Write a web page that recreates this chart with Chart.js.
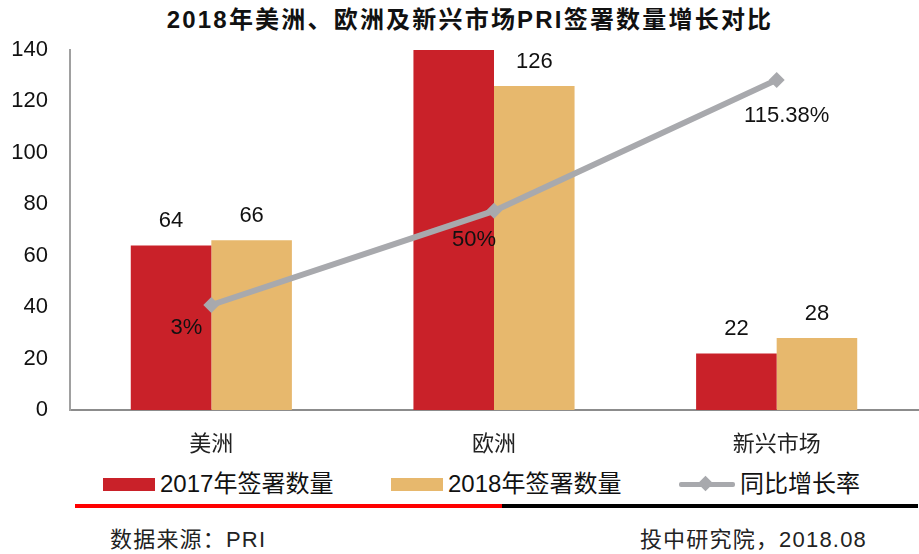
<!DOCTYPE html>
<html><head><meta charset="utf-8">
<script src="https://cdn.jsdelivr.net/npm/chart.js@4"></script>
<style>
body{margin:0;width:919px;height:554px;background:#fff;position:relative;overflow:hidden;font-family:"Liberation Sans",Arial,"Noto Sans CJK SC",sans-serif;color:#111;}
#wrap{position:absolute;left:0;top:0;width:919px;height:460px;}
.title{position:absolute;top:5px;left:0;width:940px;text-align:center;font-weight:bold;font-size:24px;letter-spacing:2.2px;line-height:30px;color:#111;}
.leg{position:absolute;top:470px;font-size:24px;line-height:28px;color:#111;white-space:nowrap;}
.box{position:absolute;width:52px;height:13px;top:478px;}
.ln{position:absolute;height:4px;top:504px;}
.foot{position:absolute;top:527px;font-size:22px;letter-spacing:1.2px;line-height:26px;color:#222;white-space:nowrap;}
</style></head>
<body>
<div class="title">2018年美洲、欧洲及新兴市场PRI签署数量增长对比</div>
<div id="wrap"><canvas id="c" width="919" height="460"></canvas></div>
<div class="box" style="left:103px;background:#C92129"></div>
<div class="leg" style="left:160px">2017年签署数量</div>
<div class="box" style="left:391px;background:#E7B86D"></div>
<div class="leg" style="left:448px">2018年签署数量</div>
<div style="position:absolute;left:679px;top:482px;width:56px;height:5px;background:#A8A9AD;border-radius:2px"></div>
<div style="position:absolute;left:700px;top:478px;width:11px;height:11px;background:#A8A9AD;transform:rotate(45deg)"></div>
<div class="leg" style="left:740px">同比增长率</div>
<div class="ln" style="left:75px;width:427px;background:#FF0000"></div>
<div class="ln" style="left:502px;width:416px;background:#000"></div>
<div class="foot" style="left:110px">数据来源：PRI</div>
<div class="foot" style="right:52px">投中研究院，2018.08</div>
<script>
const categories = ['美洲', '欧洲', '新兴市场'];
const signings2017 = [64, 150, 22];
const signings2018 = [66, 126, 28];
const growthRate = [3, 50, 115.38];
const growthLabels = ['3%', '50%', '115.38%'];
const yTicks = [0, 20, 40, 60, 80, 100, 120, 140];

const growthLabelOffsets = [[-25, 23], [-20, 29], [10, 36]];

const labelPlugin = {
  id: 'labels',
  afterDatasetsDraw(chart) {
    const ctx = chart.ctx;
    ctx.save();
    ctx.font = '22px "Liberation Sans", Arial, sans-serif';
    ctx.fillStyle = '#111';
    ctx.textAlign = 'center';
    ctx.textBaseline = 'middle';
    const yMax = chart.scales.y.max;
    [1, 2].forEach(di => {
      const meta = chart.getDatasetMeta(di);
      const data = chart.data.datasets[di].data;
      meta.data.forEach((el, i) => {
        if (data[i] > yMax) return;
        ctx.fillText(String(data[i]), el.x, el.y - 24);
      });
    });
    const lm = chart.getDatasetMeta(0);
    lm.data.forEach((el, i) => {
      const o = growthLabelOffsets[i];
      ctx.fillText(growthLabels[i], el.x + o[0], el.y + o[1]);
    });
    ctx.restore();
  }
};

new Chart(document.getElementById('c'), {
  data: {
    labels: categories,
    datasets: [
      { type: 'line', label: '同比增长率', data: growthRate, yAxisID: 'y1', order: 0,
        borderColor: '#A8A9AD', borderWidth: 6, tension: 0, clip: false,
        pointStyle: 'rectRot', pointRadius: 8, pointBackgroundColor: '#A8A9AD', pointBorderWidth: 0 },
      { type: 'bar', label: '2017年签署数量', data: signings2017, yAxisID: 'y', order: 1,
        backgroundColor: '#C92129', categoryPercentage: 0.57, barPercentage: 1.0 },
      { type: 'bar', label: '2018年签署数量', data: signings2018, yAxisID: 'y', order: 1,
        backgroundColor: '#E7B86D', categoryPercentage: 0.57, barPercentage: 1.0 }
    ]
  },
  options: {
    responsive: false,
    animation: false,
    layout: { autoPadding: false, padding: { top: 50, right: 1, left: 0, bottom: 0 } },
    plugins: { legend: { display: false }, tooltip: { enabled: false }, title: { display: false } },
    scales: {
      x: {
        grid: { display: false, drawTicks: false },
        border: { display: true, color: '#8C8C8C', width: 2 },
        ticks: { color: '#222', padding: 19, font: { size: 22, family: '"Noto Sans CJK SC", sans-serif' } },
        afterFit(s) { s.height = 50; s.paddingLeft = 0; s.paddingRight = 0; }
      },
      y: {
        min: 0, max: 140,
        grid: { display: false, drawTicks: false },
        border: { display: true, color: '#A0A0A0', width: 2 },
        afterBuildTicks(s) { s.ticks = yTicks.map(v => ({ value: v })); },
        ticks: { color: '#111', padding: 22, font: { size: 22, family: '"Liberation Sans", Arial, sans-serif' } },
        afterFit(s) { s.width = 70; }
      },
      y1: {
        display: false, min: -49.4, max: 130.3
      }
    }
  },
  plugins: [labelPlugin]
});
</script>
</body></html>
